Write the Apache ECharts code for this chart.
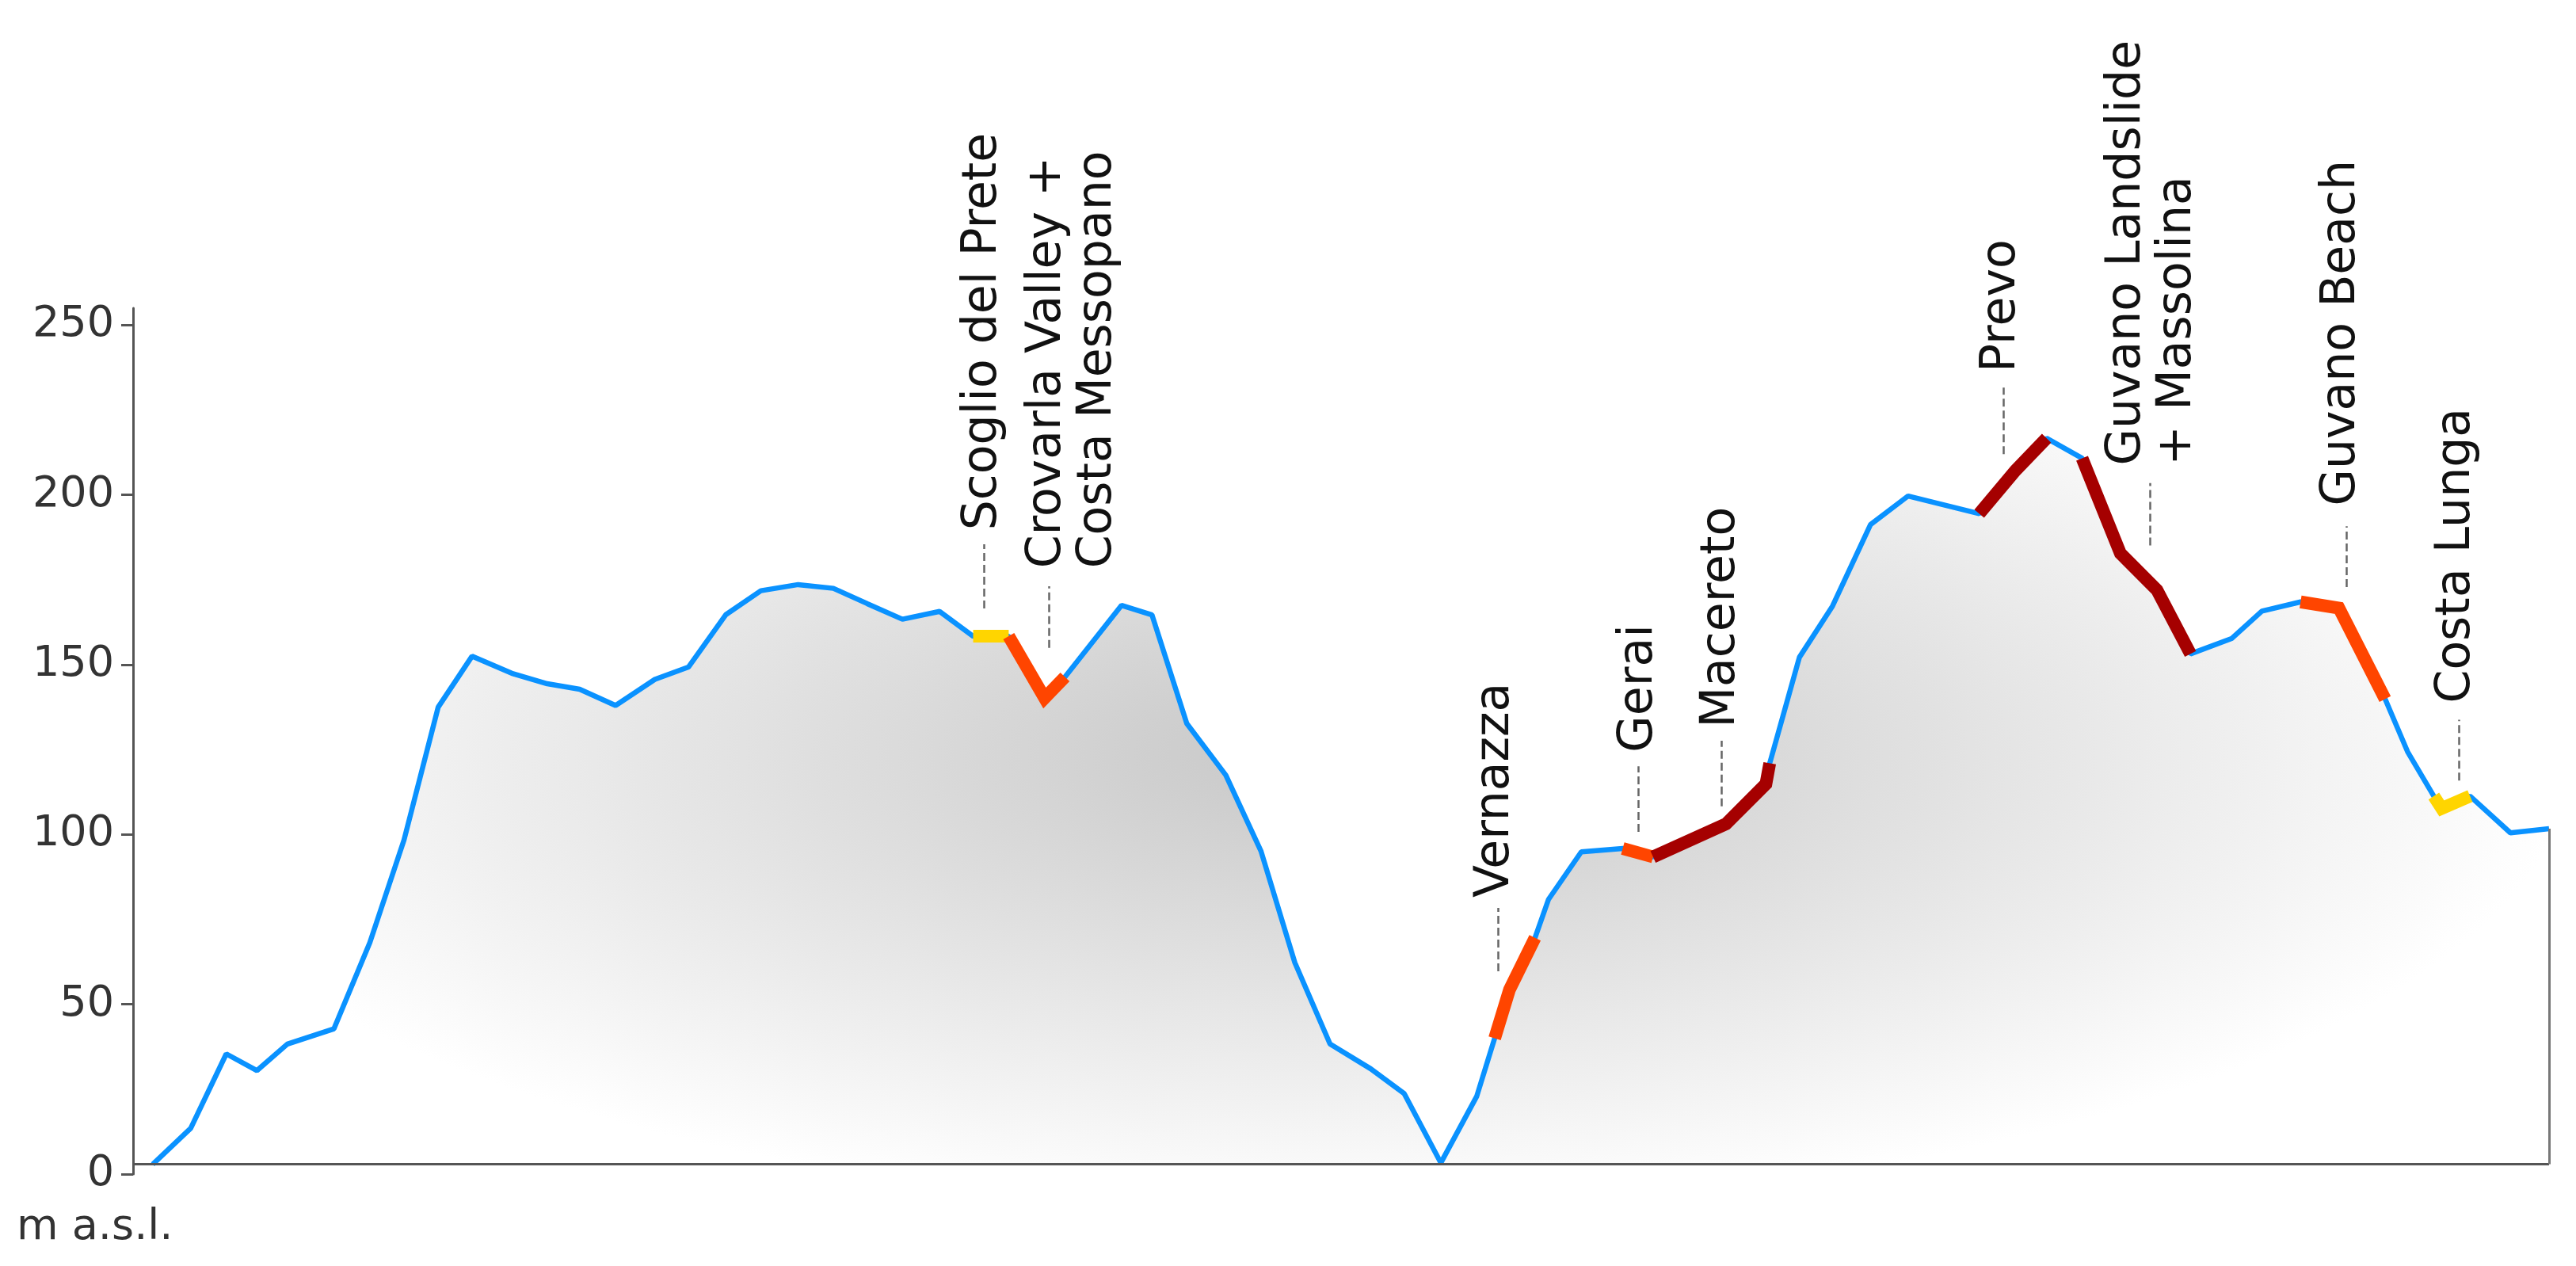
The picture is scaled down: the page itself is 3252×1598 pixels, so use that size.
<!DOCTYPE html>
<html>
<head>
<meta charset="utf-8">
<script src="https://cdn.jsdelivr.net/npm/echarts@6/dist/echarts.min.js"></script>
<style>
  html, body { margin: 0; padding: 0; background: #fff; }
  #chart { width: 3252px; height: 1598px; }
</style>
</head>
<body>
<div id="chart"></div>
<script>
// distance along the trail (km, axis not labelled) and elevation (m a.s.l.)
const dist = [
  0.057, 0.167, 0.270, 0.359, 0.447, 0.582, 0.686, 0.785, 0.884, 0.982,
  1.097, 1.200, 1.294, 1.398, 1.512, 1.609, 1.717, 1.819, 1.927, 2.029,
  2.127, 2.229, 2.337, 2.434, 2.537, 2.641, 2.700, 2.864, 2.952, 3.053,
  3.166, 3.268, 3.366, 3.468, 3.586, 3.683, 3.789, 3.893, 3.945, 3.988,
  4.062, 4.101, 4.196, 4.316, 4.404, 4.615, 4.731, 4.742, 4.828, 4.924,
  5.034, 5.143, 5.349, 5.454, 5.544, 5.647, 5.758, 5.864, 5.961, 6.080,
  6.168, 6.280, 6.391, 6.525, 6.590, 6.666, 6.689, 6.771, 6.888, 7.000
]
const elev = [
  2.9, 13.5, 35.4, 30.5, 38.3, 42.8, 68.2, 98.4, 137.5, 152.5,
  147.5, 144.4, 142.8, 138.0, 145.7, 149.3, 164.7, 171.8, 173.6, 172.5,
  168.0, 163.4, 165.7, 158.4, 158.4, 140.2, 146.4, 167.5, 164.7, 132.7,
  117.5, 95.1, 62.3, 38.3, 31.0, 23.7, 3.3, 22.9, 40.0, 54.3,
  69.6, 80.9, 94.9, 95.9, 93.4, 103.1, 114.9, 121.0, 152.2, 167.3,
  191.3, 199.7, 194.5, 207.2, 216.7, 210.8, 182.8, 172.0, 153.2, 157.7,
  165.8, 168.5, 166.7, 139.9, 124.4, 111.3, 107.7, 111.3, 100.5, 101.7
]

// highlighted stretches: index range into dist/elev and hazard level
const segStart = [23, 24, 38, 43, 44, 52, 55, 61, 65]
const segEnd = [24, 26, 40, 44, 47, 54, 58, 63, 67]
const segLevel = ['low', 'medium', 'medium', 'medium', 'high', 'high', 'high', 'medium', 'low']

const placeNames = [
  'Scoglio del Prete', 'Crovarla Valley +\nCosta Messopano', 'Vernazza', 'Gerai', 'Macereto',
  'Prevo', 'Guvano Landslide\n+ Massolina', 'Guvano Beach', 'Costa Lunga'
]

const yTicks = [0, 50, 100, 150, 200, 250]

// annotation layout, in axis units: leader x, leader bottom/top, text x, text start
const notes = [
  { lx: 2.466, lb: 166.6, lt: 185.5, tx: 2.464, ty: 189.6 },
  { lx: 2.654, lb: 155.0, lt: 173.1, tx: 2.723, ty: 178.4 },
  { lx: 3.954, lb: 59.7, lt: 78.4, tx: 3.948, ty: 81.4 },
  { lx: 4.362, lb: 100.8, lt: 120.1, tx: 4.364, ty: 124.2 },
  { lx: 4.602, lb: 108.3, lt: 127.6, tx: 4.602, ty: 131.4 },
  { lx: 5.420, lb: 212.0, lt: 231.6, tx: 5.416, ty: 236.1 },
  { lx: 5.843, lb: 185.1, lt: 203.5, tx: 5.850, ty: 208.7 },
  { lx: 6.412, lb: 172.9, lt: 190.8, tx: 6.399, ty: 196.8 },
  { lx: 6.739, lb: 115.9, lt: 133.8, tx: 6.733, ty: 138.7 }
]

const levelColor = { low: '#ffd500', medium: '#ff4500', high: '#a50000' }

// elliptical grey shading used as the area fill
const makeShade = (w, h) => {
  const c = document.createElement('canvas')
  c.width = w
  c.height = h
  const ctx = c.getContext('2d')
  ctx.fillStyle = '#fff'
  ctx.fillRect(0, 0, w, h)
  ctx.save()
  ctx.translate(1700, 950)
  ctx.scale(1, 580 / 1550)
  const g = ctx.createRadialGradient(0, 0, 0, 0, 0, 1550)
  g.addColorStop(0, '#c6c6c6')
  g.addColorStop(1, '#ffffff')
  ctx.fillStyle = g
  ctx.fillRect(-6000, -12000, 12000, 24000)
  ctx.restore()
  return c
}

const chart = echarts.init(document.getElementById('chart'))

const points = dist.map((d, i) => [d, elev[i]])
const base = Math.min(...elev)
const last = dist.length - 1

const segSeries = segStart.map((s, k) => ({
  type: 'line',
  data: points.slice(s, segEnd[k] + 1),
  symbol: 'none',
  z: 3,
  lineStyle: { color: levelColor[segLevel[k]], width: 16, cap: 'butt', join: 'miter' },
  silent: true
}))

const option = {
  animation: false,
  grid: { left: 168, right: 34, top: 389, bottom: 116, outerBoundsMode: 'none' },
  xAxis: {
    type: 'value',
    min: 0,
    max: 7,
    axisLine: { show: false },
    axisTick: { show: false },
    axisLabel: { show: false },
    splitLine: { show: false }
  },
  yAxis: {
    type: 'value',
    min: 0,
    max: 255,
    interval: 50,
    axisLine: { show: true, lineStyle: { color: '#555', width: 3 } },
    axisTick: { show: true, length: 15, customValues: yTicks, lineStyle: { color: '#555', width: 3 } },
    axisLabel: {
      customValues: yTicks,
      margin: 24,
      fontFamily: 'DejaVu Sans',
      fontSize: 54,
      color: '#333'
    },
    splitLine: { show: false }
  },
  graphic: [
    {
      type: 'text',
      x: 21,
      y: 1550,
      style: {
        text: 'm a.s.l.',
        fontFamily: 'DejaVu Sans',
        fontSize: 54,
        fill: '#333',
        verticalAlign: 'middle'
      }
    }
  ],
  series: [
    {
      type: 'line',
      data: points,
      symbol: 'none',
      z: 2,
      lineStyle: { color: '#0a92ff', width: 6.5 },
      areaStyle: {
        color: { image: makeShade(3252, 1598), repeat: 'no-repeat' },
        opacity: 1,
        origin: base
      },
      markLine: {
        silent: true,
        symbol: ['none', 'none'],
        label: { show: false },
        data: [
          [
            { coord: [0, base], lineStyle: { color: '#555', width: 3, type: 'solid' } },
            { coord: [dist[last], base] }
          ],
          [
            { coord: [dist[last], base], lineStyle: { color: '#777', width: 3, type: 'solid' } },
            { coord: [dist[last], elev[last]] }
          ],
          ...notes.map(n => [
            { coord: [n.lx, n.lb], lineStyle: { color: '#666', width: 2.5, type: [10, 5] } },
            { coord: [n.lx, n.lt] }
          ])
        ]
      },
      markPoint: {
        silent: true,
        symbol: 'rect',
        symbolSize: 1,
        itemStyle: { color: 'rgba(0,0,0,0)' },
        label: {
          show: true,
          position: 'inside',
          rotate: 90,
          align: 'left',
          verticalAlign: 'middle',
          fontFamily: 'DejaVu Sans',
          fontSize: 60,
          lineHeight: 64,
          color: '#111',
          formatter: '{b}'
        },
        data: notes.map((n, i) => ({ name: placeNames[i], coord: [n.tx, n.ty] }))
      }
    },
    ...segSeries
  ]
}

chart.setOption(option)

window.addEventListener('resize', () => {
  chart.resize()
})
</script>
</body>
</html>
